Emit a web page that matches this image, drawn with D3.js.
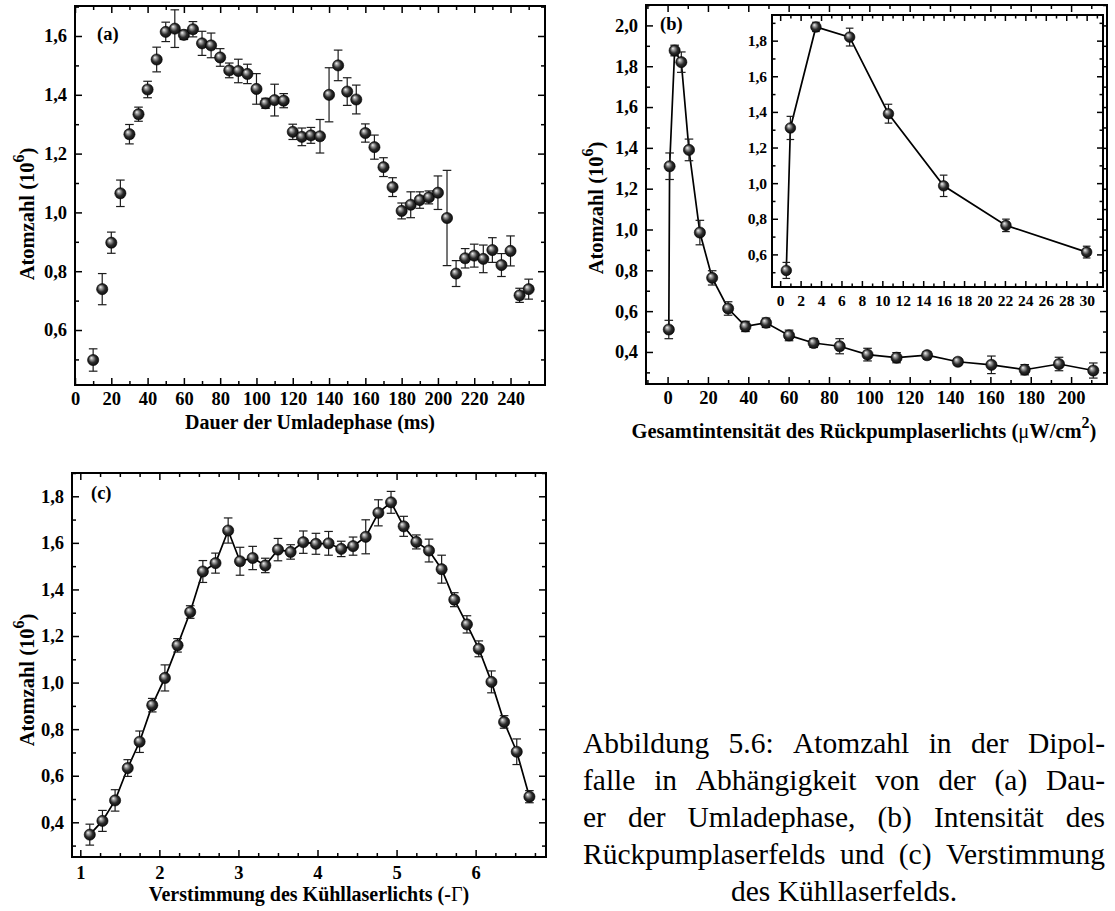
<!DOCTYPE html>
<html>
<head>
<meta charset="utf-8">
<script src="https://cdn.jsdelivr.net/npm/d3@7"></script>
<style>
  body { margin: 0; background: #fff; }
  svg { display: block; }
</style>
</head>
<body>
<svg id="fig" width="1115" height="911"></svg>
<script>
// ---------- (a) Atomzahl vs. Dauer der Umladephase ----------
const durA = [10, 15, 20, 25, 30, 35, 40, 45, 50, 55, 60, 65, 70, 75, 80, 85, 90, 95, 100, 105,
  110, 115, 120, 125, 130, 135, 140, 145, 150, 155, 160, 165, 170, 175, 180, 185, 190, 195, 200,
  205, 210, 215, 220, 225, 230, 235, 240, 245, 250];
const atomA = [0.498, 0.739, 0.897, 1.065, 1.266, 1.334, 1.418, 1.52, 1.614, 1.625, 1.604, 1.623,
  1.575, 1.568, 1.527, 1.483, 1.481, 1.471, 1.42, 1.371, 1.382, 1.38, 1.274, 1.257, 1.262, 1.259,
  1.40, 1.50, 1.411, 1.384, 1.27, 1.222, 1.154, 1.086, 1.005, 1.026, 1.042, 1.051, 1.067, 0.981,
  0.792, 0.844, 0.853, 0.842, 0.872, 0.821, 0.869, 0.718, 0.739];
const errA = [0.038, 0.053, 0.036, 0.045, 0.033, 0.024, 0.028, 0.042, 0.033, 0.064, 0.016, 0.026,
  0.041, 0.042, 0.030, 0.025, 0.040, 0.033, 0.052, 0.017, 0.054, 0.024, 0.026, 0.030, 0.027, 0.057,
  0.092, 0.052, 0.047, 0.049, 0.031, 0.041, 0.032, 0.032, 0.027, 0.044, 0.028, 0.022, 0.057, 0.162,
  0.044, 0.033, 0.039, 0.047, 0.042, 0.039, 0.051, 0.024, 0.034];
const xTicksA = [0, 20, 40, 60, 80, 100, 120, 140, 160, 180, 200, 220, 240];
const yTicksA = [0.6, 0.8, 1.0, 1.2, 1.4, 1.6];

// ---------- (b) Atomzahl vs. Rückpumpintensität ----------
const intB = [0.6, 1.0, 3.5, 6.8, 10.6, 16.0, 22.1, 30.0, 38.6, 48.8, 60.2, 72.4, 85.3, 99.1,
  113.5, 128.6, 143.9, 160.5, 177.0, 194.0, 211.0];
const atomB = [0.51, 1.31, 1.877, 1.82, 1.39, 0.985, 0.763, 0.613, 0.525, 0.543, 0.481, 0.444,
  0.428, 0.387, 0.372, 0.384, 0.352, 0.337, 0.313, 0.341, 0.309];
const errB = [0.045, 0.065, 0.026, 0.05, 0.053, 0.06, 0.035, 0.033, 0.025, 0.023, 0.026, 0.022,
  0.037, 0.031, 0.025, 0.018, 0.016, 0.043, 0.025, 0.033, 0.037];
const xTicksB = [0, 20, 40, 60, 80, 100, 120, 140, 160, 180, 200];
const yTicksB = [0.4, 0.6, 0.8, 1.0, 1.2, 1.4, 1.6, 1.8, 2.0];
const insetMaxB = 30;   // inset shows the low-intensity part
const xTicksInset = [0, 2, 4, 6, 8, 10, 12, 14, 16, 18, 20, 22, 24, 26, 28, 30];
const yTicksInset = [0.6, 0.8, 1.0, 1.2, 1.4, 1.6, 1.8];

// ---------- (c) Atomzahl vs. Verstimmung ----------
const detC = [1.12, 1.28, 1.44, 1.60, 1.75, 1.91, 2.07, 2.23, 2.39, 2.55, 2.71, 2.87, 3.02, 3.18,
  3.34, 3.50, 3.66, 3.82, 3.98, 4.14, 4.30, 4.45, 4.61, 4.77, 4.93, 5.09, 5.25, 5.41, 5.57, 5.73,
  5.89, 6.04, 6.20, 6.36, 6.52, 6.68];
const atomC = [0.347, 0.406, 0.494, 0.633, 0.746, 0.903, 1.02, 1.16, 1.303, 1.477, 1.513, 1.653,
  1.521, 1.535, 1.503, 1.571, 1.561, 1.603, 1.596, 1.598, 1.574, 1.586, 1.626, 1.729, 1.774, 1.671,
  1.604, 1.567, 1.487, 1.356, 1.25, 1.145, 1.003, 0.831, 0.703, 0.51];
const errC = [0.045, 0.045, 0.046, 0.036, 0.046, 0.029, 0.056, 0.029, 0.027, 0.047, 0.043, 0.054,
  0.06, 0.05, 0.031, 0.048, 0.031, 0.048, 0.045, 0.051, 0.033, 0.039, 0.073, 0.056, 0.047, 0.043,
  0.03, 0.049, 0.06, 0.03, 0.037, 0.034, 0.047, 0.027, 0.055, 0.026];
const xTicksC = [1, 2, 3, 4, 5, 6];
const yTicksC = [0.4, 0.6, 0.8, 1.0, 1.2, 1.4, 1.6, 1.8];

const captionLines = [
  "Abbildung 5.6: Atomzahl in der Dipol-",
  "falle in Abhängigkeit von der (a) Dau-",
  "er der Umladephase, (b) Intensität des",
  "Rückpumplaserfelds und (c) Verstimmung",
  "des Kühllaserfelds."
];

const serif = '"Liberation Serif","Times New Roman",Times,serif';
const comma = d => d3.format(".1f")(d).replace(".", ",");
const svg = d3.select("#fig");

// shaded ball marker
const grad = svg.append("defs").append("radialGradient").attr("id", "ball")
  .attr("cx", "50%").attr("cy", "50%").attr("r", "60%").attr("fx", "33%").attr("fy", "30%");
[[0, "#f4f4f4"], [0.2, "#a8a8a8"], [0.55, "#2c2c2c"], [1, "#000"]].forEach(s =>
  grad.append("stop").attr("offset", s[0]).attr("stop-color", s[1]));

// minor ticks: n subdivisions between majors, kept inside the domain
function minors(major, n, dom) {
  const step = (major[1] - major[0]) / n, out = [];
  for (let v = major[0] - step * n; v <= major[major.length - 1] + step * n + 1e-9; v += step) {
    const r = Math.round(v * 1000) / 1000;
    if (!major.some(m => Math.abs(m - r) < 1e-6) && r >= dom[0] && r <= dom[1]) out.push(r);
  }
  return out;
}

function styleAxis(sel, fs) {
  sel.attr("font-family", serif).attr("font-size", fs).attr("font-weight", "bold");
  sel.selectAll(".domain").remove();
  sel.selectAll("line").attr("stroke-width", 1.5);
  sel.selectAll("text").attr("fill", "#000");
}

function drawFrame(g, x, y, o) {
  const [xl, xr] = x.range(), [yb, yt] = y.range();
  const xd = x.domain(), yd = y.domain();
  const xMaj = o.xMajor.filter(v => v >= xd[0] && v <= xd[1]);
  const yMaj = o.yMajor.filter(v => v >= yd[0] && v <= yd[1]);
  const xMin = minors(o.xMajor, o.xSub, xd), yMin = minors(o.yMajor, o.ySub, yd);

  // bottom
  g.append("g").attr("transform", `translate(0,${yb})`)
    .call(d3.axisBottom(x).tickValues(xMaj).tickSize(-o.major).tickPadding(o.xPad).tickFormat(o.xFmt))
    .call(styleAxis, o.fs);
  g.append("g").attr("transform", `translate(0,${yb})`)
    .call(d3.axisBottom(x).tickValues(xMin).tickSize(-o.minor).tickFormat(""))
    .call(styleAxis, o.fs);
  // top
  g.append("g").attr("transform", `translate(0,${yt})`)
    .call(d3.axisTop(x).tickValues(xMaj).tickSize(-o.major).tickFormat(""))
    .call(styleAxis, o.fs);
  g.append("g").attr("transform", `translate(0,${yt})`)
    .call(d3.axisTop(x).tickValues(xMin).tickSize(-o.minor).tickFormat(""))
    .call(styleAxis, o.fs);
  // left
  g.append("g").attr("transform", `translate(${xl},0)`)
    .call(d3.axisLeft(y).tickValues(yMaj).tickSize(-o.major).tickPadding(o.yPad).tickFormat(comma))
    .call(styleAxis, o.fs);
  g.append("g").attr("transform", `translate(${xl},0)`)
    .call(d3.axisLeft(y).tickValues(yMin).tickSize(-o.minor).tickFormat(""))
    .call(styleAxis, o.fs);
  // right
  g.append("g").attr("transform", `translate(${xr},0)`)
    .call(d3.axisRight(y).tickValues(yMaj).tickSize(-o.major).tickFormat(""))
    .call(styleAxis, o.fs);
  g.append("g").attr("transform", `translate(${xr},0)`)
    .call(d3.axisRight(y).tickValues(yMin).tickSize(-o.minor).tickFormat(""))
    .call(styleAxis, o.fs);

  g.append("rect").attr("x", xl).attr("y", yt).attr("width", xr - xl).attr("height", yb - yt)
    .attr("fill", "none").attr("stroke", "#000").attr("stroke-width", 2);
}

function drawSeries(g, x, y, xs, ys, es, o) {
  const pts = xs.map((v, i) => ({ x: v, y: ys[i], e: es[i] }));
  if (o.line) {
    g.append("path").datum(pts)
      .attr("d", d3.line().x(d => x(d.x)).y(d => y(d.y)))
      .attr("fill", "none").attr("stroke", "#000").attr("stroke-width", 1.7);
  }
  const eb = g.append("g").attr("stroke", "#1c1c1c").attr("stroke-width", 1.2);
  eb.selectAll(".v").data(pts).join("line").attr("class", "v")
    .attr("x1", d => x(d.x)).attr("x2", d => x(d.x))
    .attr("y1", d => y(d.y - d.e)).attr("y2", d => y(d.y + d.e));
  [-1, 1].forEach(s => {
    eb.selectAll(".c" + (s + 1)).data(pts).join("line").attr("class", "c" + (s + 1))
      .attr("x1", d => x(d.x) - o.cap).attr("x2", d => x(d.x) + o.cap)
      .attr("y1", d => y(d.y + s * d.e)).attr("y2", d => y(d.y + s * d.e));
  });
  g.append("g").selectAll("circle").data(pts).join("circle")
    .attr("cx", d => x(d.x)).attr("cy", d => y(d.y)).attr("r", o.r)
    .attr("fill", "url(#ball)").attr("stroke", "#000").attr("stroke-width", 0.6);
}

function yTitle(x, y) {
  const t = svg.append("text").attr("transform", `translate(${x},${y}) rotate(-90)`)
    .attr("text-anchor", "middle").attr("font-family", serif).attr("font-size", 20.5)
    .attr("font-weight", "bold");
  t.append("tspan").text("Atomzahl (10");
  t.append("tspan").attr("dy", -10).attr("font-size", 16).text("6");
  t.append("tspan").attr("dy", 10).text(")");
}

function label(x, y, s, anchor) {
  return svg.append("text").attr("x", x).attr("y", y).attr("text-anchor", anchor || "start")
    .attr("font-family", serif).attr("font-size", 20).attr("font-weight", "bold").text(s);
}

const base = { major: 7, minor: 4, fs: 18.5, xSub: 2, ySub: 2, xPad: 7, yPad: 8 };

// ---------- panel (a) ----------
{
  const x = d3.scaleLinear().domain([0, 259]).range([75, 545]);
  const y = d3.scaleLinear().domain([0.413, 1.702]).range([385, 6]);
  const g = svg.append("g");
  drawSeries(g, x, y, durA, atomA, errA, { line: false, r: 5.6, cap: 4.3 });
  drawFrame(g, x, y, Object.assign({}, base, { xMajor: xTicksA, yMajor: yTicksA, xFmt: d3.format("d") }));
  label(97, 40, "(a)").attr("font-size", 18.5);
  yTitle(34, 214);
  label(310, 429, "Dauer der Umladephase (ms)", "middle");
}

// ---------- panel (b) ----------
{
  const x = d3.scaleLinear().domain([-10.7, 217.8]).range([646, 1107]);
  const y = d3.scaleLinear().domain([0.243, 2.10]).range([384, 5]);
  const g = svg.append("g");
  drawSeries(g, x, y, intB, atomB, errB, { line: true, r: 5.6, cap: 4.3 });
  drawFrame(g, x, y, Object.assign({}, base, { xMajor: xTicksB, yMajor: yTicksB, xFmt: d3.format("d") }));
  label(660, 30, "(b)").attr("font-size", 18.5);
  yTitle(603, 208);
  const t = label(864, 438, "Gesamtintensität des Rückpumplaserlichts (", "middle").attr("font-size", 20.5);
  t.append("tspan").attr("font-weight", "normal").text("μ");
  t.append("tspan").text("W/cm");
  t.append("tspan").attr("dy", -10).attr("font-size", 16).text("2");
  t.append("tspan").attr("dy", 10).text(")");

  // inset
  const xi = d3.scaleLinear().domain([-0.8, 31.6]).range([772, 1103]);
  const yi = d3.scaleLinear().domain([0.417, 1.944]).range([287, 15]);
  const gi = svg.append("g");
  gi.append("rect").attr("x", 772).attr("y", 15).attr("width", 331).attr("height", 272).attr("fill", "#fff");
  const keep = intB.map((v, i) => i).filter(i => intB[i] <= insetMaxB);
  drawSeries(gi, xi, yi, keep.map(i => intB[i]), keep.map(i => atomB[i]), keep.map(i => errB[i]),
    { line: true, r: 5.3, cap: 3.8 });
  drawFrame(gi, xi, yi, { major: 6, minor: 3.5, fs: 15.5, xSub: 2, ySub: 2, xPad: 8, yPad: 5,
    xMajor: xTicksInset, yMajor: yTicksInset, xFmt: d3.format("d") });
}

// ---------- panel (c) ----------
{
  const x = d3.scaleLinear().domain([0.895, 6.89]).range([72, 546]);
  const y = d3.scaleLinear().domain([0.251, 1.90]).range([857, 473]);
  const g = svg.append("g");
  drawSeries(g, x, y, detC, atomC, errC, { line: true, r: 5.6, cap: 4.3 });
  drawFrame(g, x, y, Object.assign({}, base, { xMajor: xTicksC, yMajor: yTicksC, xSub: 4, xPad: 9, xFmt: d3.format("d") }));
  label(91, 499, "(c)").attr("font-size", 18.5);
  yTitle(34, 680);
  const t = label(309, 901, "Verstimmung des Kühllaserlichts (-", "middle");
  t.append("tspan").attr("font-weight", "normal").text("Γ");
  t.append("tspan").text(")");
}

// ---------- caption (justified) ----------
{
  const x0 = 583, x1 = 1105, y0 = 753, dy = 37, fs = 29.5;
  const cg = svg.append("g").attr("font-family", serif).attr("font-size", fs).attr("fill", "#000");
  captionLines.forEach((line, i) => {
    const yy = y0 + i * dy;
    if (i === captionLines.length - 1) {
      cg.append("text").attr("x", (x0 + x1) / 2).attr("y", yy).attr("text-anchor", "middle").text(line);
      return;
    }
    const words = line.split(" ");
    const nodes = words.map(w => cg.append("text").attr("y", yy).text(w));
    const widths = nodes.map(n => n.node().getComputedTextLength());
    const gap = (x1 - x0 - d3.sum(widths)) / (words.length - 1);
    let xx = x0;
    nodes.forEach((n, k) => { n.attr("x", xx); xx += widths[k] + gap; });
  });
}
</script>
</body>
</html>
